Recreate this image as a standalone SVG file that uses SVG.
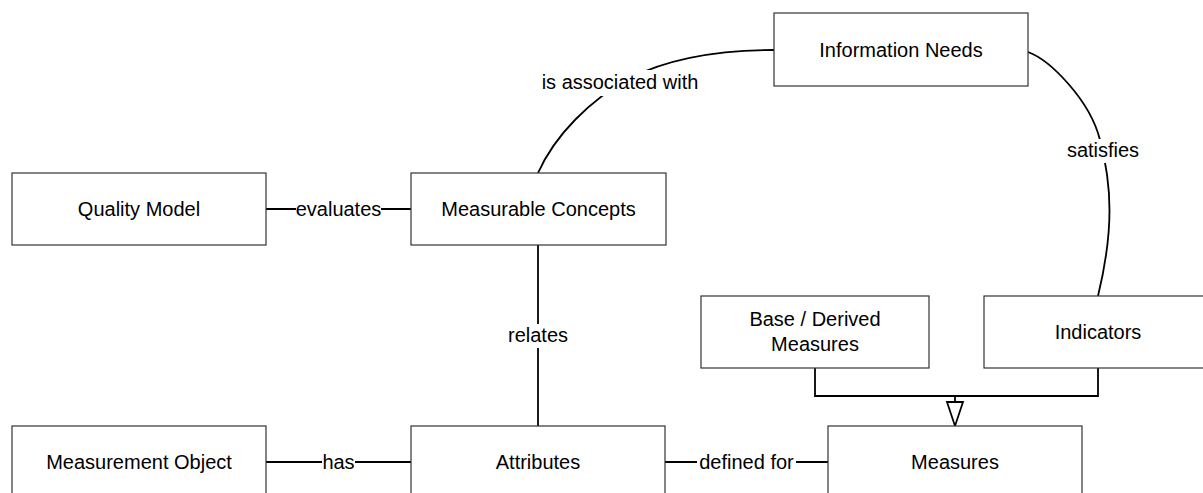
<svg xmlns="http://www.w3.org/2000/svg" width="1203" height="493" viewBox="0 0 1203 493">
<style>
.box{fill:#fff;stroke:#333;stroke-width:1.2}
.t{font-family:"Liberation Sans",Arial,sans-serif;font-size:20px;fill:#000;text-anchor:middle}
.c{fill:none;stroke:#000;stroke-width:1.8}
.bg{fill:#fff}
</style>
<rect width="1203" height="493" fill="#fff"/>
<g id="connectors">
<line class="c" x1="266" y1="209" x2="411" y2="209"/>
<line class="c" x1="266" y1="462" x2="411" y2="462"/>
<line class="c" x1="665" y1="462" x2="828" y2="462"/>
<line class="c" x1="538" y1="245" x2="538" y2="426"/>
<path class="c" d="M538,173 C555,135 590,100 630,78 C670,58 720,50 774,50"/>
<path class="c" d="M1028,52 C1050,60 1090,100 1100,140 C1112,185 1114,230 1098,296"/>
<polyline class="c" points="815,368 815,396 1098,396 1098,368"/>
<line class="c" x1="955" y1="396" x2="955" y2="402"/>
<polygon points="947,402 963,402 955,426" fill="#fff" stroke="#000" stroke-width="1.8" stroke-linejoin="miter"/>
<rect class="bg" x="296" y="198" width="85" height="22"/>
<text class="t" x="338.5" y="216">evaluates</text>
<rect class="bg" x="322" y="451" width="33" height="22"/>
<text class="t" x="338.5" y="469">has</text>
<rect class="bg" x="697" y="451" width="99" height="22"/>
<text class="t" x="746.5" y="469">defined for</text>
<rect class="bg" x="506" y="324" width="64" height="24"/>
<text class="t" x="538" y="342">relates</text>
<rect class="bg" x="540" y="70" width="160" height="26"/>
<text class="t" x="620" y="89">is associated with</text>
<rect class="bg" x="1066" y="139" width="75" height="24"/>
<text class="t" x="1103" y="157">satisfies</text>
</g>
<g id="information-needs">
<rect class="box" x="774" y="13" width="254" height="73"/>
<text class="t" x="901" y="56.5">Information Needs</text>
</g>
<g id="quality-model">
<rect class="box" x="12" y="173" width="254" height="72"/>
<text class="t" x="139" y="216">Quality Model</text>
</g>
<g id="measurable-concepts">
<rect class="box" x="411" y="173" width="255" height="72"/>
<text class="t" x="538.5" y="216">Measurable Concepts</text>
</g>
<g id="base-derived-measures">
<rect class="box" x="701" y="296" width="228" height="72"/>
<text class="t" x="815" y="326">Base / Derived</text>
<text class="t" x="815" y="351">Measures</text>
</g>
<g id="indicators">
<rect class="box" x="984" y="296" width="228" height="72"/>
<text class="t" x="1098" y="339">Indicators</text>
</g>
<g id="measurement-object">
<rect class="box" x="12" y="426" width="254" height="72"/>
<text class="t" x="139" y="469">Measurement Object</text>
</g>
<g id="attributes">
<rect class="box" x="411" y="426" width="254" height="72"/>
<text class="t" x="538" y="469">Attributes</text>
</g>
<g id="measures">
<rect class="box" x="828" y="426" width="254" height="72"/>
<text class="t" x="955" y="469">Measures</text>
</g>
</svg>
